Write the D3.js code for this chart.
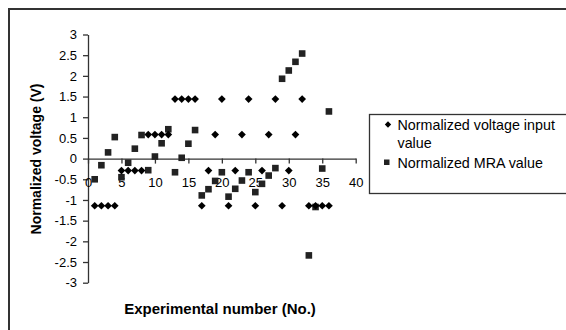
<!DOCTYPE html>
<html>
<head>
<meta charset="utf-8">
<script src="https://cdn.jsdelivr.net/npm/d3@7"></script>
<style>
  body { margin: 0; background: #fff; }
  text { font-family: "Liberation Sans", Arial, sans-serif; fill: #000; }
</style>
</head>
<body>
<div id="chart"></div>
<script>
// chart data
var experimentNo = [1, 2, 3, 4, 5, 6, 7, 8, 9, 10, 11, 12, 13, 14, 15, 16, 17, 18,
  19, 20, 21, 22, 23, 24, 25, 26, 27, 28, 29, 30, 31, 32, 33, 34, 35, 36];

var inputValues = [-1.14, -1.14, -1.14, -1.14, -0.29, -0.29, -0.29, -0.29,
  0.58, 0.58, 0.58, 0.58, 1.44, 1.44, 1.44, 1.44,
  -1.14, -0.29, 0.58, 1.44, -1.14, -0.29, 0.58, 1.44,
  -1.14, -0.29, 0.58, 1.44, -1.14, -0.29, 0.58, 1.44,
  -1.14, -1.14, -1.14, -1.14];

var mraValues = [-0.5, -0.16, 0.15, 0.52, -0.45, -0.1, 0.24, 0.57,
  -0.28, 0.05, 0.37, 0.71, -0.33, 0.02, 0.36, 0.69,
  -0.89, -0.74, -0.54, -0.33, -0.92, -0.73, -0.53, -0.33,
  -0.81, -0.61, -0.41, -0.23, 1.93, 2.13, 2.34, 2.54,
  -2.34, -1.17, -0.24, 1.14];

var xTicks = [0, 5, 10, 15, 20, 25, 30, 35, 40];
var yTicks = [-3, -2.5, -2, -1.5, -1, -0.5, 0, 0.5, 1, 1.5, 2, 2.5, 3];

var seriesNames = ["Normalized voltage input", "value", "Normalized MRA value"];

makeChart();

function makeChart() {

  var svgWidth = 566;
  var svgHeight = 330;

  var margin = { top: 34.5, left: 88 };
  var width = 267.7;
  var height = 248.2;

  var svg = d3.select("#chart")
    .append("svg")
    .attr("width", svgWidth)
    .attr("height", svgHeight);

  // outer frame (only top and left edges fall inside the picture)
  svg.append("rect")
    .attr("x", 9)
    .attr("y", 9)
    .attr("width", 700)
    .attr("height", 500)
    .attr("fill", "none")
    .attr("stroke", "#333")
    .attr("stroke-width", 2);

  var chartGroup = svg.append("g")
    .attr("transform", `translate(${margin.left}, ${margin.top})`);

  // scales
  var xScale = d3.scaleLinear()
    .domain([0, 40])
    .range([0, width]);

  var yScale = d3.scaleLinear()
    .domain([-3, 3])
    .range([height, 0]);

  // axes
  var bottomAxis = d3.axisBottom(xScale)
    .tickValues(xTicks)
    .tickFormat(d => String(d))
    .tickSizeInner(5)
    .tickSizeOuter(0)
    .tickPadding(14);

  var leftAxis = d3.axisLeft(yScale)
    .tickValues(yTicks)
    .tickFormat(d => String(d))
    .tickSizeInner(5)
    .tickSizeOuter(0)
    .tickPadding(6);

  var yAxisG = chartGroup.append("g")
    .call(leftAxis);

  var xAxisG = chartGroup.append("g")
    .attr("transform", `translate(0, ${yScale(0)})`)
    .call(bottomAxis);

  [xAxisG, yAxisG].forEach(function (g) {
    g.select(".domain").attr("stroke", "#333").attr("stroke-width", 1.3);
    g.selectAll(".tick line").attr("stroke", "#333").attr("stroke-width", 1.3);
    g.selectAll(".tick text")
      .attr("fill", "#000")
      .style("font-family", "'Liberation Sans', Arial, sans-serif")
      .style("font-size", "13px");
  });

  // MRA squares
  chartGroup.append("g")
    .selectAll("rect")
    .data(mraValues)
    .enter()
    .append("rect")
    .attr("x", (d, i) => xScale(experimentNo[i]) - 3.3)
    .attr("y", d => yScale(d) - 3.3)
    .attr("width", 6.6)
    .attr("height", 6.6)
    .attr("fill", "#222");

  // input diamonds
  var diamond = d3.symbol().type(d3.symbolDiamond2).size(38);

  chartGroup.append("g")
    .selectAll("path")
    .data(inputValues)
    .enter()
    .append("path")
    .attr("d", diamond)
    .attr("transform", (d, i) => `translate(${xScale(experimentNo[i])}, ${yScale(d)})`)
    .attr("fill", "#000");

  // axis labels
  svg.append("text")
    .attr("transform", "translate(41, 159) rotate(-90)")
    .attr("text-anchor", "middle")
    .style("font-size", "14px")
    .style("font-weight", "bold")
    .text("Normalized voltage (V)");

  svg.append("text")
    .attr("x", 220)
    .attr("y", 314)
    .attr("text-anchor", "middle")
    .style("font-size", "15px")
    .style("font-weight", "bold")
    .text("Experimental number (No.)");

  // legend
  var legend = svg.append("g");

  legend.append("rect")
    .attr("x", 369.5)
    .attr("y", 114.5)
    .attr("width", 220)
    .attr("height", 79)
    .attr("fill", "#fff")
    .attr("stroke", "#333")
    .attr("stroke-width", 1.3);

  legend.append("path")
    .attr("d", d3.symbol().type(d3.symbolDiamond2).size(26))
    .attr("transform", "translate(388, 124.5)")
    .attr("fill", "#000");

  legend.append("rect")
    .attr("x", 384)
    .attr("y", 159.5)
    .attr("width", 5.5)
    .attr("height", 5.5)
    .attr("fill", "#222");

  legend.selectAll("text")
    .data(seriesNames)
    .enter()
    .append("text")
    .attr("x", 397.5)
    .attr("y", (d, i) => [129.5, 148, 167.5][i])
    .style("font-size", "14.3px")
    .text(d => d);
}
</script>
</body>
</html>
